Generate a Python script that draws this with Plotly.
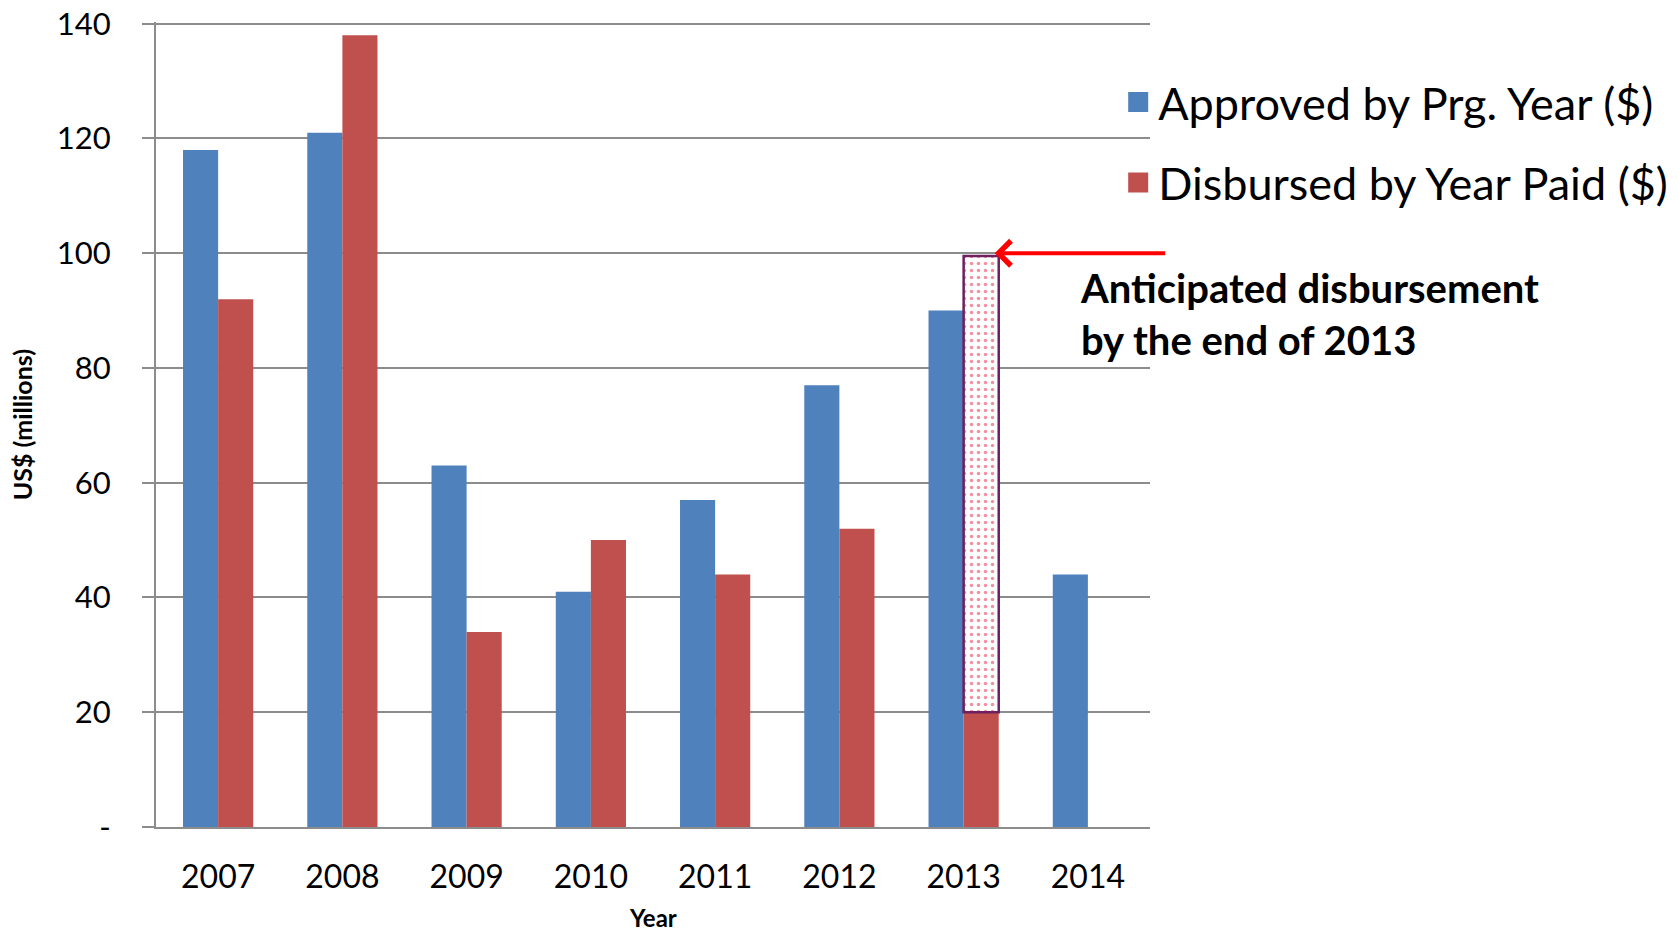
import plotly.graph_objects as go

years = ["2007", "2008", "2009", "2010", "2011", "2012", "2013", "2014"]
approved = [118, 121, 63, 41, 57, 77, 90, 44]
disbursed = [92, 138, 34, 50, 44, 52, 20, None]
anticipated_year = ["2013"]
anticipated_base = [20]
anticipated_top = [99.5]
y_ticks = [0, 20, 40, 60, 80, 100, 120, 140]
y_tick_text = ["-", "20", "40", "60", "80", "100", "120", "140"]
series_names = ["Approved by Prg. Year ($)", "Disbursed by Year Paid ($)"]

BLUE = "#4F81BD"
RED = "#C0504D"
GRID = "#8C8C8C"
FONT = "Lato, 'Open Sans', sans-serif"

fig = go.Figure()
fig.add_trace(go.Bar(x=years, y=approved, name=series_names[0], showlegend=False,
                     marker=dict(color=BLUE, line=dict(width=0)), offsetgroup="a"))
fig.add_trace(go.Bar(x=years, y=disbursed, name=series_names[1], showlegend=False,
                     marker=dict(color=RED, line=dict(width=0)), offsetgroup="d"))
fig.add_trace(go.Bar(x=anticipated_year,
                     y=[t - b for t, b in zip(anticipated_top, anticipated_base)],
                     base=anticipated_base, offsetgroup="d", showlegend=False,
                     marker=dict(color="white",
                                 line=dict(color="#6E1F60", width=2.5),
                                 pattern=dict(shape=".", fgcolor="#E3243F", bgcolor="white",
                                              size=7, solidity=0.2))))
# legend entries (square keys like the reference)
for nm, col, grp in [(series_names[0], BLUE, "g1"), (series_names[1], RED, "g2")]:
    fig.add_trace(go.Scatter(x=[None], y=[None], mode="markers", name=nm,
                             legendgroup=grp,
                             marker=dict(symbol="square", size=16, color=col,
                                         line=dict(color=col, width=4))))

fig.update_layout(
    width=1671, height=925,
    paper_bgcolor="white", plot_bgcolor="white",
    barmode="group", bargap=0.435, bargroupgap=0,
    margin=dict(l=148, r=529, t=14, b=106, autoexpand=False),
    font=dict(family=FONT, color="black"),
    showlegend=True,
    legend=dict(x=0.968, y=0.945, xanchor="left", yanchor="top",
                font=dict(size=45, family=FONT, color="black"),
                tracegroupgap=19, itemwidth=30, itemsizing="trace",
                traceorder="grouped", bgcolor="rgba(0,0,0,0)"),
    xaxis=dict(type="category", range=[-0.5, 7.5], showgrid=False, automargin=False,
               showline=True, linecolor=GRID, linewidth=2, ticks="",
               tickfont=dict(size=32, family=FONT, color="black"),
               ticklabelstandoff=21),
    yaxis=dict(range=[0, 140.3], tickvals=y_ticks, ticktext=y_tick_text, automargin=False,
               showgrid=True, gridcolor=GRID, gridwidth=1.5,
               showline=True, linecolor=GRID, linewidth=2,
               ticks="outside", ticklen=12, tickcolor=GRID, tickwidth=2,
               tickfont=dict(size=31, family=FONT, color="black"),
               ticklabelstandoff=25, ticklabeloverflow="allow", zeroline=False),
    annotations=[
        dict(text="<b>US$ (millions)</b>", xref="paper", yref="paper",
             x=-0.135, y=0.5, textangle=-90, showarrow=False,
             font=dict(size=25, family=FONT, color="black"),
             xanchor="center", yanchor="middle"),
        dict(text="<b>Year</b>", xref="paper", yref="paper",
             x=0.5, y=-0.113, showarrow=False,
             font=dict(size=24, family=FONT, color="black"),
             xanchor="center", yanchor="middle"),
        dict(text="<b>Anticipated disbursement<br>by the end of 2013</b>",
             xref="paper", yref="paper", x=0.928, y=0.637, align="left",
             showarrow=False, xanchor="left", yanchor="middle",
             font=dict(size=40, family=FONT, color="black")),
        dict(text="", x=6.25, y=100, xref="x", yref="y",
             showarrow=True, arrowhead=4, arrowsize=1.2, arrowwidth=4,
             arrowcolor="#FF0000", ax=172, ay=0, axref="pixel", ayref="pixel"),
    ],
)

fig.write_html("out.html")
